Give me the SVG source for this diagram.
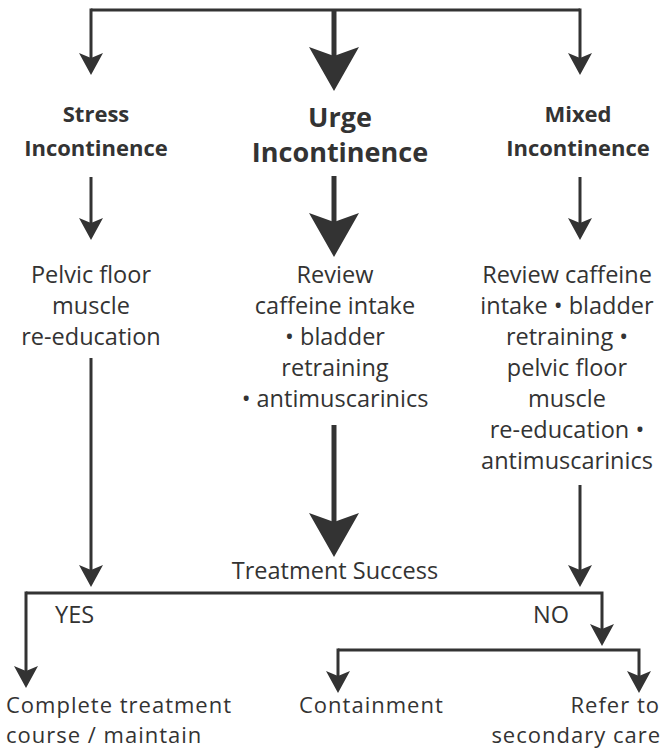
<svg xmlns="http://www.w3.org/2000/svg" width="663" height="752" viewBox="0 0 663 752">
<style>
  .bg{fill:#ffffff}
  .ln{fill:none;stroke:#333333;stroke-width:3}
  .thk{fill:none;stroke:#333333;stroke-width:5}
  .hd{font-family:"Open Sans","Liberation Sans",sans-serif;font-weight:bold;fill:#333333;text-anchor:middle}
  .tx{font-family:"Open Sans","Liberation Sans",sans-serif;font-size:23.5px;fill:#333333}
  .bt{font-family:"Open Sans","Liberation Sans",sans-serif;font-size:22px;letter-spacing:1px;fill:#333333}
  .c{text-anchor:middle}
  .e{text-anchor:end}
  .ah{fill:#333333}
</style>
<defs>
  <marker id="sm" viewBox="-23 -13 24 26" refX="-17" refY="0" markerWidth="24" markerHeight="26" markerUnits="userSpaceOnUse" orient="auto">
    <path class="ah" d="M0,0 L-22,-12 L-17,0 L-22,12 Z"/>
  </marker>
  <marker id="lg" viewBox="-45 -26 46 52" refX="-35" refY="0" markerWidth="46" markerHeight="52" markerUnits="userSpaceOnUse" orient="auto">
    <path class="ah" d="M0,0 L-44,-25 L-35,0 L-44,25 Z"/>
  </marker>
</defs>
<rect class="bg" x="0" y="0" width="663" height="752"/>
<g id="connectors">
  <path class="ln" d="M91,10 H580"/>
  <path class="ln" d="M91,8.5 V58" marker-end="url(#sm)"/>
  <path class="thk" d="M334,10 V56" marker-end="url(#lg)"/>
  <path class="ln" d="M580,8.5 V58" marker-end="url(#sm)"/>
  <path class="ln" d="M91,177 V223" marker-end="url(#sm)"/>
  <path class="thk" d="M334,176 V222" marker-end="url(#lg)"/>
  <path class="ln" d="M580,177 V223" marker-end="url(#sm)"/>
  <path class="ln" d="M91,358 V570" marker-end="url(#sm)"/>
  <path class="thk" d="M334,425 V522" marker-end="url(#lg)"/>
  <path class="ln" d="M580,485 V570" marker-end="url(#sm)"/>
  <path class="ln" d="M26,591.5 V671" marker-end="url(#sm)"/>
  <path class="ln" d="M26,593 H602 V629" marker-end="url(#sm)"/>
  <path class="ln" d="M338,648.5 V676" marker-end="url(#sm)"/>
  <path class="ln" d="M338,650 H639 V676" marker-end="url(#sm)"/>
</g>
<g id="stress">
  <text class="hd" font-size="22" x="96" y="122">Stress</text>
  <text class="hd" font-size="22" x="96" y="156">Incontinence</text>
</g>
<g id="urge">
  <text class="hd" font-size="27" x="340" y="127">Urge</text>
  <text class="hd" font-size="27" x="340" y="162">Incontinence</text>
</g>
<g id="mixed">
  <text class="hd" font-size="22" x="578" y="122">Mixed</text>
  <text class="hd" font-size="22" x="578" y="156">Incontinence</text>
</g>
<g id="stress-treatment">
  <text class="tx c" x="91" y="283">Pelvic floor</text>
  <text class="tx c" x="91" y="314">muscle</text>
  <text class="tx c" x="91" y="345">re-education</text>
</g>
<g id="urge-treatment">
  <text class="tx c" x="335" y="283">Review</text>
  <text class="tx c" x="335" y="314">caffeine intake</text>
  <text class="tx c" x="335" y="345">• bladder</text>
  <text class="tx c" x="335" y="376">retraining</text>
  <text class="tx c" x="335" y="407">• antimuscarinics</text>
</g>
<g id="mixed-treatment">
  <text class="tx c" x="567" y="283">Review caffeine</text>
  <text class="tx c" x="567" y="314">intake • bladder</text>
  <text class="tx c" x="567" y="345">retraining •</text>
  <text class="tx c" x="567" y="376">pelvic floor</text>
  <text class="tx c" x="567" y="407">muscle</text>
  <text class="tx c" x="567" y="438">re-education •</text>
  <text class="tx c" x="567" y="469">antimuscarinics</text>
</g>
<g id="treatment-success">
  <text class="tx c" x="335" y="579">Treatment Success</text>
</g>
<g id="yes">
  <text class="tx" x="55" y="623">YES</text>
</g>
<g id="no">
  <text class="tx" x="533" y="623">NO</text>
</g>
<g id="complete">
  <text class="bt" x="6" y="713">Complete treatment</text>
  <text class="bt" x="6" y="743">course / maintain</text>
</g>
<g id="containment">
  <text class="bt" x="299" y="713">Containment</text>
</g>
<g id="refer">
  <text class="bt e" x="660" y="713">Refer to</text>
  <text class="bt e" x="661" y="743">secondary care</text>
</g>
</svg>
